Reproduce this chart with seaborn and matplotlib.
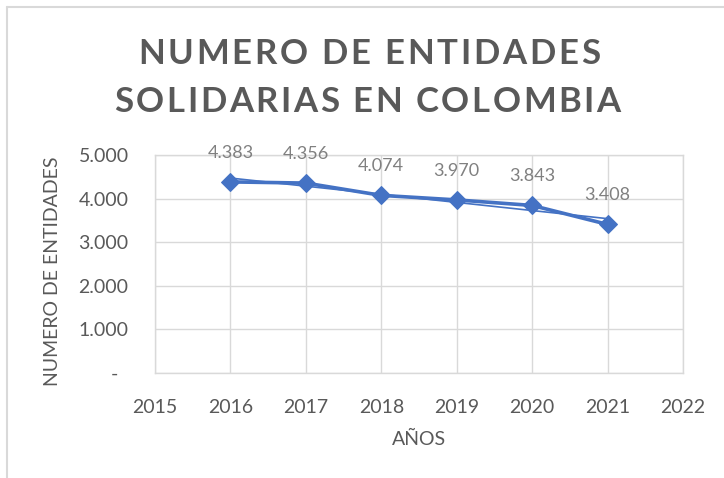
import numpy as np
import pandas as pd
import seaborn as sns
import matplotlib.pyplot as plt
from matplotlib.lines import Line2D
from matplotlib.ticker import FuncFormatter
from matplotlib.transforms import ScaledTranslation
from matplotlib.font_manager import FontProperties, findfont
from matplotlib.ft2font import FT2Font

# data
years = [2016, 2017, 2018, 2019, 2020, 2021]
entidades = [4383, 4356, 4074, 3970, 3843, 3408]
y_ticks = [0, 1000, 2000, 3000, 4000, 5000]
x_ticks = [2015, 2016, 2017, 2018, 2019, 2020, 2021, 2022]
title_lines = ['NUMERO DE ENTIDADES', 'SOLIDARIAS EN COLOMBIA']

BLUE = '#4472C4'
GRID = '#d9d9d9'
TXT = '#595959'
LBL = '#808080'

W, H = 724, 478

sns.set_theme(style='whitegrid')
plt.rcParams['font.family'] = ['Lato', 'DejaVu Sans']


def spaced_title(fig, text, cx, baseline, size, spacing, color):
    # excel draws the title with extra letter spacing, matplotlib can't, so place glyphs one by one
    fp = FontProperties(family='Lato', weight='bold', size=size)
    ft = FT2Font(findfont(fp))
    ft.set_size(size, fig.dpi)
    advs = [ft.load_char(ord(c)).linearHoriAdvance / 65536 for c in text]
    total = sum(advs) + spacing * (len(text) - 1)
    x = cx - total / 2
    for c, a in zip(text, advs):
        if c != ' ':
            fig.text(x / W, 1 - baseline / H, c, fontproperties=fp, color=color,
                     ha='left', va='baseline')
        x += a + spacing


df = pd.DataFrame({'year': years, 'n': entidades})

fig = plt.figure(figsize=(W / 100, H / 100), dpi=100)
fig.patch.set_facecolor('white')
ax = fig.add_axes([155 / W, 1 - 373 / H, 528 / W, 218 / H])
ax.set_facecolor('white')

sns.lineplot(data=df, x='year', y='n', ax=ax, color=BLUE, linewidth=2.6,
             marker='D', markersize=9, markeredgecolor=BLUE, zorder=3)

# linear trendline
coef = np.polyfit(df['year'], df['n'], 1)
ax.plot(df['year'], np.polyval(coef, df['year']), color=BLUE, linewidth=1.2, zorder=2)

for xv, yv in zip(years, entidades):
    ax.annotate(f'{yv:,}'.replace(',', '.'), (xv, yv), xytext=(0, 21),
                textcoords='offset points', ha='center', va='center',
                fontsize=13, color=LBL)

ax.set_xlim(2015, 2022)
ax.set_ylim(0, 5000)
ax.set_xticks(x_ticks)
ax.set_yticks(y_ticks)
ax.yaxis.set_major_formatter(FuncFormatter(
    lambda v, p: '-' if v == 0 else f'{v:,.0f}'.replace(',', '.')))
ax.grid(True, color=GRID, linewidth=1)
for s in ax.spines.values():
    s.set_color(GRID)
    s.set_linewidth(1)
ax.tick_params(length=0, labelsize=14, labelcolor=TXT)
ax.tick_params(axis='y', pad=19)
ax.tick_params(axis='x', pad=19)

# the "-" for zero sits a bit left of the other labels
for lab in ax.get_yticklabels():
    if lab.get_text() == '-':
        lab.set_transform(lab.get_transform() + ScaledTranslation(-10 / 100, 0, fig.dpi_scale_trans))

ax.set_xlabel('AÑOS', fontsize=14, color=TXT, va='center')
ax.xaxis.set_label_coords(0.5, -0.305)
ax.set_ylabel('NUMERO DE ENTIDADES', fontsize=14, color=TXT, va='center', ha='center')
ax.yaxis.set_label_coords(-0.195, 0.468)

spaced_title(fig, title_lines[0], 369, 64, 25, 2.7, TXT)
spaced_title(fig, title_lines[1], 367.5, 112, 25, 2.55, TXT)

# chart area border (cut by the screenshot on the right and bottom)
fig.add_artist(Line2D([6.5 / W, 6.5 / W], [0, 1 - 6.5 / H], transform=fig.transFigure,
                      color=GRID, linewidth=1.5))
fig.add_artist(Line2D([6.5 / W, 1], [1 - 6.5 / H, 1 - 6.5 / H], transform=fig.transFigure,
                      color=GRID, linewidth=1.5))

fig.savefig('out.png', dpi=100)
